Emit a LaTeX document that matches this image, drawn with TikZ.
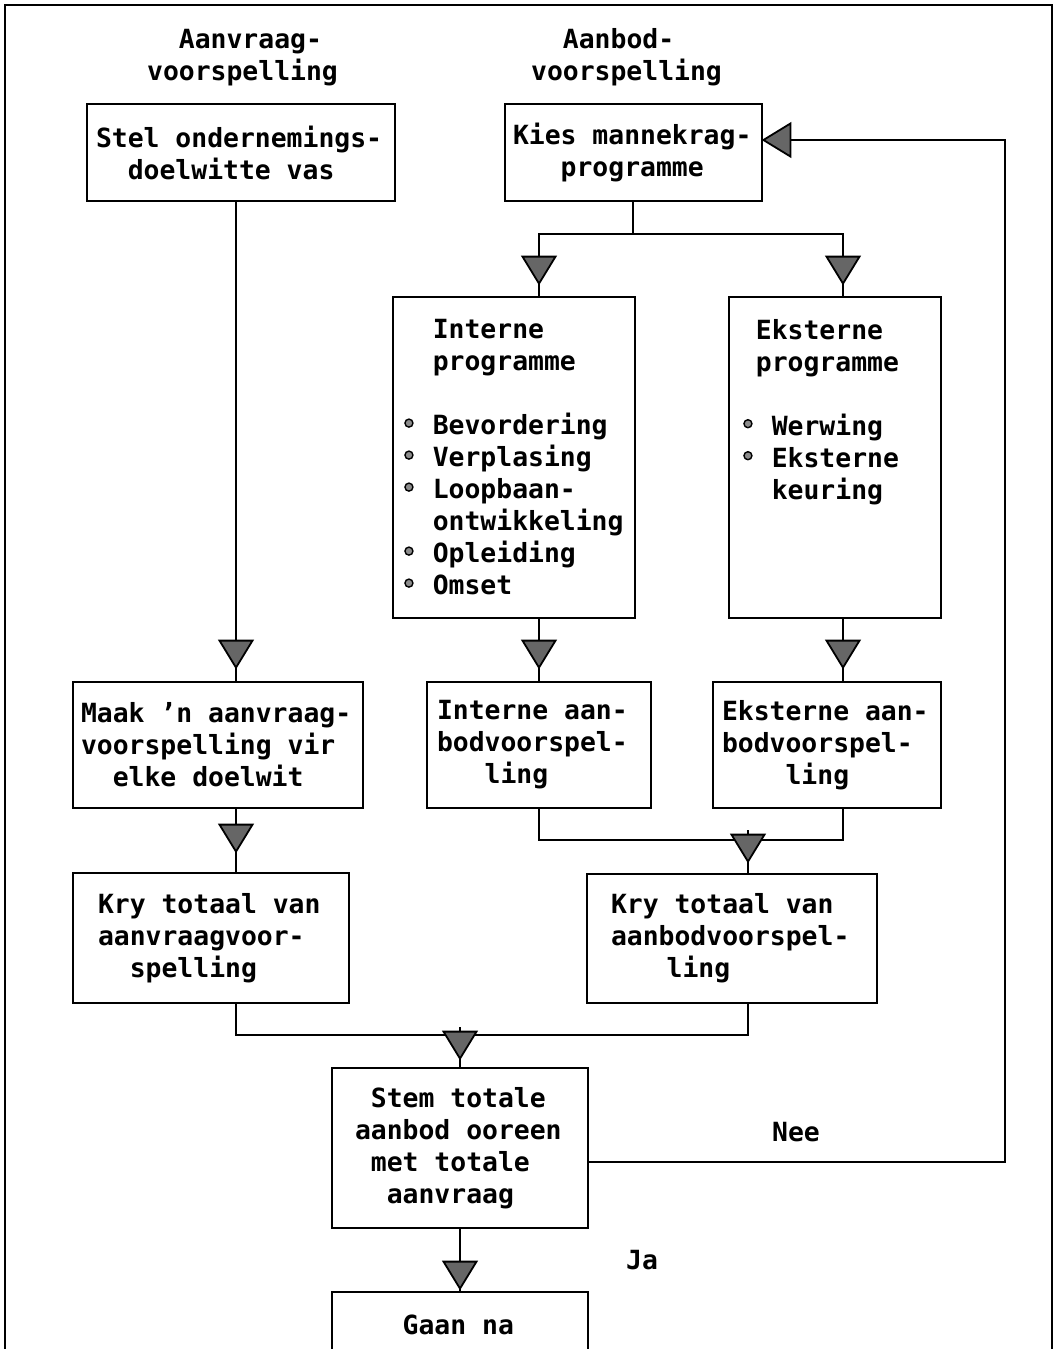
\documentclass[tikz,border=0pt]{standalone}
\usepackage{fontspec}
\newfontfamily\diagfont{DejaVu Sans Mono}
\usetikzlibrary{decorations.markings}
\hyphenpenalty=10000
% typewriter-style lettering
\newcommand\diagtext{\diagfont\bfseries\fontsize{26.4}{32}\selectfont}
% one blank character cell (word space / indent)
\newcommand\gap{\hphantom{x}}
% list bullet: a small grey disc, one character cell wide
\newcommand\bul{\makebox[0.6021em]{\raisebox{0.27em}{\tikz\draw[fill=black!45,line width=1.4pt] (0pt,0pt) circle (4pt);}}}
\begin{document}
\begin{tikzpicture}[x=1pt,y=-1pt,
  every node/.style={font=\diagtext},
  box/.style={draw, line width=2.8pt, align=left, inner ysep=0pt},
  conn/.style={line width=2.8pt},
  tipshape/.style={fill=black!60, draw=black, line width=1.8pt, line join=miter},
  arrowto/.style={postaction={decorate,decoration={markings,
      mark=at position 1 with {\path[tipshape] (-#1pt,0pt) -- ++(-27pt,16.5pt) -- ++(0pt,-33pt) -- cycle;}}}},
  arrowto/.default=12]

% page and frame
\useasboundingbox (0,0) rectangle (1057,1349);
\fill[white] (0,0) rectangle (1057,1349);
\clip (0,0) rectangle (1057,1349);
\draw[line width=2.2pt] (5,5) rectangle (1052,1400);

% column headings
\node[align=left] (hdA) at (242.5,57.5) {\gap\gap Aanvraag-\\voorspelling};
\node[align=left] (hdB) at (626.5,57.5) {\gap\gap Aanbod-\\voorspelling};

% process boxes
\node[box, text width=290pt, inner xsep=9pt, minimum height=97pt] (stel) at (241,152.5)
  {Stel\gap ondernemings-\\\gap\gap doelwitte\gap vas};
\node[box, text width=241pt, inner xsep=8pt, minimum height=97pt] (kies) at (633.5,152.5)
  {Kies\gap mannekrag-\\\gap\gap\gap programme};
\node[box, text width=226pt, inner xsep=8pt, minimum height=321pt] (intprog) at (514,457.5)
  {\gap\gap Interne\\\gap\gap programme\\~\\
   \bul\gap Bevordering\\\bul\gap Verplasing\\\bul\gap Loopbaan-\\
   \gap\gap ontwikkeling\\\bul\gap Opleiding\\\bul\gap Omset};
\node[box, text width=190pt, inner xsep=11pt, minimum height=321pt] (extprog) at (835,457.5)
  {\gap Eksterne\\\gap programme\\~\\
   \bul\gap Werwing\\\bul\gap Eksterne\\\gap\gap keuring\\~\\~\\~};
\node[box, text width=274pt, inner xsep=8pt, minimum height=126pt] (maak) at (218,745)
  {Maak\gap ’n\gap aanvraag-\\voorspelling\gap vir\\\gap\gap elke\gap doelwit};
\node[box, text width=204pt, inner xsep=10pt, minimum height=126pt] (intaan) at (539,745)
  {Interne\gap aan-\\bodvoorspel-\\\gap\gap\gap ling};
\node[box, text width=210pt, inner xsep=9pt, minimum height=126pt] (extaan) at (827,745)
  {Eksterne\gap aan-\\bodvoorspel-\\\gap\gap\gap\gap ling};
\node[box, text width=226pt, inner xsep=25pt, minimum height=130pt] (kryvraag) at (211,938)
  {Kry\gap totaal\gap van\\aanvraagvoor-\\\gap\gap spelling};
\node[box, text width=242pt, inner xsep=24pt, minimum height=129pt] (krybod) at (732,938.5)
  {Kry\gap totaal\gap van\\aanbodvoorspel-\\\gap\gap\gap\hspace{0.3em}ling};
\node[box, text width=210pt, inner xsep=23pt, minimum height=160pt] (stem) at (460,1148)
  {\gap Stem\gap totale\\aanbod\gap ooreen\\\gap met\gap totale\\\gap\gap aanvraag};
\node[box, text width=210pt, inner xsep=23pt, minimum height=98pt] (gaan) at (460,1341)
  {\gap\gap\gap Gaan\gap na\\~};

% branch labels
\node (nee) at (796,1132) {Nee};
\node (ja) at (642,1260) {Ja};

% routing columns and junctions
\coordinate (cA) at (236,0);
\coordinate (cB) at (539,0);
\coordinate (cC) at (843,0);
\coordinate (cD) at (748,0);
\coordinate (split) at (633,234);
\coordinate (join1) at (748,840);
\coordinate (stub1) at (748,830);
\coordinate (join2) at (460,1035);
\coordinate (stub2) at (460,1027);
\coordinate (fbbot) at (1005,1162);
\coordinate (fbtop) at (1005,140);

% connectors
\draw[conn,arrowto=13] (cA |- stel.south) -- (cA |- maak.north);
\draw[conn] (split |- kies.south) -- (split);
\draw[conn,arrowto=12] (split) -| (cB |- intprog.north);
\draw[conn,arrowto=12] (split) -| (cC |- extprog.north);
\draw[conn,arrowto=13] (cB |- intprog.south) -- (cB |- intaan.north);
\draw[conn,arrowto=13] (cC |- extprog.south) -- (cC |- extaan.north);
\draw[conn,arrowto=20] (cA |- maak.south) -- (cA |- kryvraag.north);
\draw[conn] (cB |- intaan.south) |- (join1) -| (cC |- extaan.south);
\draw[conn,arrowto=11] (stub1) -- (cD |- krybod.north);
\draw[conn] (cA |- kryvraag.south) |- (join2) -| (cD |- krybod.south);
\draw[conn,arrowto=8] (stub2) -- (stem.north);
\draw[conn,arrowto=0] (stem.east |- fbbot) -- (fbbot) -- (fbtop) -- (kies.east |- fbtop);
\draw[conn,arrowto=2] (stem.south) -- (gaan.north);
\end{tikzpicture}
\end{document}
